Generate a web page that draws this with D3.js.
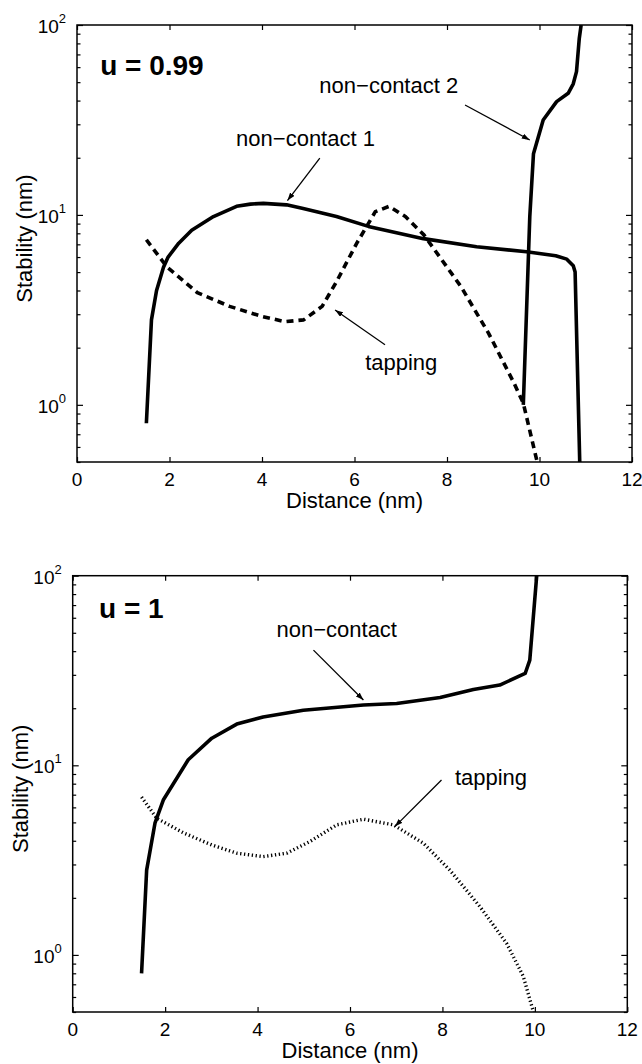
<!DOCTYPE html>
<html>
<head>
<meta charset="utf-8">
<script src="https://cdn.jsdelivr.net/npm/d3@7"></script>
<style>
  html, body { margin: 0; padding: 0; background: #fff; }
  svg { display: block; }
  text { font-family: "Liberation Sans", Arial, Helvetica, sans-serif; fill: #000; }
</style>
</head>
<body>
<svg id="chart" width="642" height="1064"></svg>
<script>
// ---- axis values ----
const xDomain = [0, 12];
const yDomain = [0.5, 100];
const xTicks = [0, 2, 4, 6, 8, 10, 12];
const yDecadeExps = [0, 1, 2];
const yMinorTicks = [0.5, 0.6, 0.7, 0.8, 0.9, 2, 3, 4, 5, 6, 7, 8, 9, 20, 30, 40, 50, 60, 70, 80, 90];

// ---- u = 0.99 ----
const nc1X = [1.5, 1.61, 1.72, 1.87, 1.97, 2.2, 2.48, 2.95, 3.45, 3.75, 4.03, 4.53, 4.89, 5.61, 6.3, 7.49, 8.64, 9.72, 10.35, 10.59, 10.73, 10.77, 10.87];
const nc1Y = [0.8, 2.8, 4.0, 5.3, 6.0, 7.1, 8.3, 9.8, 11.1, 11.4, 11.5, 11.3, 10.8, 9.8, 8.7, 7.5, 6.8, 6.4, 6.1, 5.85, 5.4, 5.0, 0.5];

const nc2X = [9.65, 9.79, 9.87, 10.08, 10.37, 10.62, 10.73, 10.80, 10.86, 10.9];
const nc2Y = [1.0, 9.8, 21, 31.6, 39.5, 43.7, 49, 56.8, 85, 100];

const tap99X = [1.5, 1.95, 2.6, 3.3, 4.0, 4.5, 4.9, 5.3, 5.6, 6.05, 6.45, 6.75, 7.1, 7.5, 8.3, 8.9, 9.45, 9.65, 9.95];
const tap99Y = [7.4, 5.3, 3.9, 3.3, 2.92, 2.74, 2.8, 3.3, 4.4, 7.1, 10.4, 11.1, 9.8, 7.85, 4.2, 2.38, 1.3, 1.02, 0.5];

// ---- u = 1 ----
const ncX = [1.49, 1.60, 1.78, 1.96, 2.5, 3.01, 3.55, 4.12, 4.99, 6.29, 7.01, 7.95, 8.67, 9.24, 9.79, 9.89, 10.04];
const ncY = [0.8, 2.8, 4.95, 6.56, 10.7, 13.9, 16.5, 18.0, 19.5, 20.8, 21.2, 22.8, 25.1, 26.5, 30.5, 35.9, 100];

const tap1X = [1.49, 1.82, 2.4, 3.01, 3.55, 4.12, 4.63, 5.13, 5.71, 6.29, 6.94, 7.59, 8.16, 8.81, 9.39, 9.75, 9.97];
const tap1Y = [6.8, 5.25, 4.4, 3.8, 3.44, 3.3, 3.44, 3.96, 4.85, 5.2, 4.85, 3.88, 2.8, 1.8, 1.15, 0.77, 0.5];

const zip = (xs, ys) => xs.map((x, i) => [x, ys[i]]);

const panels = [
  {
    box: { left: 77, right: 632, top: 25, bottom: 462 },
    title: "u = 0.99", titleAt: [0.5, 54.6],
    series: [
      { pts: zip(nc1X, nc1Y), style: "solid" },
      { pts: zip(nc2X, nc2Y), style: "solid" },
      { pts: zip(tap99X, tap99Y), style: "dashed" }
    ],
    notes: [
      { text: "non\u2212contact 1", at: [3.44, 23.1], from: [5.25, 19.9], to: [4.55, 11.9] },
      { text: "non\u2212contact 2", at: [5.24, 43.7], from: [8.39, 37.9], to: [9.79, 24.8] },
      { text: "tapping", at: [6.23, 1.53], from: [6.66, 2.07], to: [5.58, 3.16] }
    ]
  },
  {
    box: { left: 72.7, right: 627.3, top: 575.7, bottom: 1012 },
    title: "u = 1", titleAt: [0.57, 59.6],
    series: [
      { pts: zip(ncX, ncY), style: "solid" },
      { pts: zip(tap1X, tap1Y), style: "dotted" }
    ],
    notes: [
      { text: "non\u2212contact", at: [4.41, 47.3], from: [5.21, 40.5], to: [6.29, 22.1] },
      { text: "tapping", at: [8.27, 7.87], from: [7.98, 8.36], to: [6.97, 4.75] }
    ]
  }
];

const svg = d3.select("#chart");
const defs = svg.append("defs");
defs.append("marker")
  .attr("id", "arrowhead")
  .attr("viewBox", "0 0 10 10")
  .attr("refX", 10).attr("refY", 5)
  .attr("markerWidth", 8).attr("markerHeight", 5.5)
  .attr("markerUnits", "userSpaceOnUse")
  .attr("preserveAspectRatio", "none")
  .attr("orient", "auto")
  .append("path").attr("d", "M0,0 L10,5 L0,10 Z").attr("fill", "#000");

const lineStyles = {
  solid:  { width: 3.6, dash: null },
  dashed: { width: 3.6, dash: "7,5" },
  dotted: { width: 3.4, dash: "1.3,2.6" }
};

panels.forEach((p, pi) => {
  const b = p.box;
  const x = d3.scaleLinear().domain(xDomain).range([b.left, b.right]);
  const y = d3.scaleLog().domain(yDomain).range([b.bottom, b.top]);
  const g = svg.append("g");

  const clipId = "clip" + pi;
  defs.append("clipPath").attr("id", clipId)
    .append("rect").attr("x", b.left).attr("y", b.top)
    .attr("width", b.right - b.left).attr("height", b.bottom - b.top);

  // inward ticks on all four sides
  const tickAxes = [
    { ax: d3.axisBottom(x).tickValues(xTicks).tickSize(-5), tr: `translate(0,${b.bottom})` },
    { ax: d3.axisTop(x).tickValues(xTicks).tickSize(-5), tr: `translate(0,${b.top})` },
    { ax: d3.axisLeft(y).tickValues(yDecadeExps.map(e => Math.pow(10, e))).tickSize(-6), tr: `translate(${b.left},0)` },
    { ax: d3.axisRight(y).tickValues(yDecadeExps.map(e => Math.pow(10, e))).tickSize(-6), tr: `translate(${b.right},0)` },
    { ax: d3.axisLeft(y).tickValues(yMinorTicks).tickSize(-3.5), tr: `translate(${b.left},0)` },
    { ax: d3.axisRight(y).tickValues(yMinorTicks).tickSize(-3.5), tr: `translate(${b.right},0)` }
  ];
  tickAxes.forEach(t => {
    const a = g.append("g").attr("transform", t.tr).call(t.ax.tickFormat(""));
    a.select(".domain").remove();
    a.selectAll("line").attr("stroke", "#000").attr("stroke-width", 1.2);
  });

  // frame
  g.append("rect")
    .attr("x", b.left).attr("y", b.top)
    .attr("width", b.right - b.left).attr("height", b.bottom - b.top)
    .attr("fill", "none").attr("stroke", "#000").attr("stroke-width", 1.5);

  // x tick labels
  g.selectAll(".xl").data(xTicks).join("text")
    .attr("x", d => x(d)).attr("y", b.bottom + 24)
    .attr("text-anchor", "middle").attr("font-size", 19)
    .text(d => d);

  // y tick labels 10^k
  yDecadeExps.forEach(e => {
    const t = g.append("text")
      .attr("x", b.left - 11).attr("y", y(Math.pow(10, e)) + 8)
      .attr("text-anchor", "end").attr("font-size", 19);
    t.append("tspan").text("10");
    t.append("tspan").attr("dy", -10).attr("font-size", 13).text(e);
  });

  // axis titles
  g.append("text")
    .attr("x", (b.left + b.right) / 2).attr("y", b.bottom + 46)
    .attr("text-anchor", "middle").attr("font-size", 22)
    .text("Distance (nm)");
  g.append("text")
    .attr("transform", `translate(${b.left - 45},${(b.top + b.bottom) / 2 - 5}) rotate(-90)`)
    .attr("text-anchor", "middle").attr("font-size", 22)
    .text("Stability (nm)");

  // curves
  const line = d3.line().x(d => x(d[0])).y(d => y(d[1]));
  p.series.forEach(s => {
    const st = lineStyles[s.style];
    g.append("path")
      .attr("clip-path", `url(#${clipId})`)
      .attr("d", line(s.pts))
      .attr("fill", "none").attr("stroke", "#000")
      .attr("stroke-width", st.width)
      .attr("stroke-linejoin", "round")
      .attr("stroke-dasharray", st.dash);
  });

  // panel title
  g.append("text")
    .attr("x", x(p.titleAt[0])).attr("y", y(p.titleAt[1]))
    .attr("font-size", 28).attr("font-weight", "bold")
    .text(p.title);

  // annotations with arrows
  p.notes.forEach(n => {
    g.append("text")
      .attr("x", x(n.at[0])).attr("y", y(n.at[1]))
      .attr("font-size", 22)
      .text(n.text);
    g.append("line")
      .attr("x1", x(n.from[0])).attr("y1", y(n.from[1]))
      .attr("x2", x(n.to[0])).attr("y2", y(n.to[1]))
      .attr("stroke", "#000").attr("stroke-width", 1.3)
      .attr("marker-end", "url(#arrowhead)");
  });
});
</script>
</body>
</html>
